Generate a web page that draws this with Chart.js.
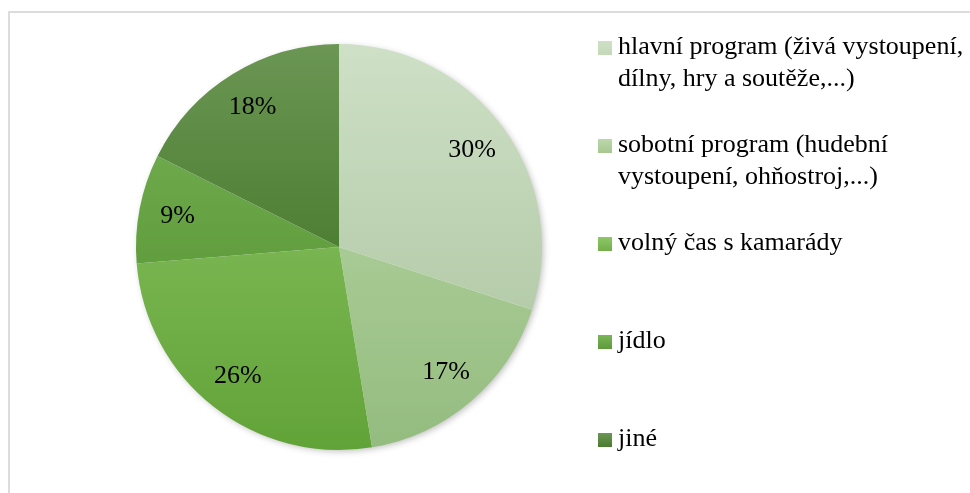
<!DOCTYPE html>
<html>
<head>
<meta charset="utf-8">
<script src="https://cdn.jsdelivr.net/npm/chart.js@4"></script>
<style>
  html, body { margin: 0; padding: 0; background: #fff; }
  #wrap { position: relative; width: 970px; height: 493px; overflow: hidden; }
  #frame { position: absolute; left: 8px; top: 11px; width: 1000px; height: 600px;
           border-left: 2px solid #dcdcdc; border-top: 2px solid #dcdcdc; }
  canvas { position: absolute; left: 0; top: 0; }
</style>
</head>
<body>
<div id="wrap">
  <div id="frame"></div>
  <canvas id="chart" width="970" height="493"></canvas>
</div>
<script>
const categories = [
  'hlavní program (živá vystoupení, dílny, hry a soutěže,...)',
  'sobotní program (hudební vystoupení, ohňostroj,...)',
  'volný čas s kamarády',
  'jídlo',
  'jiné'
];
// shares; labels show them rounded
const shares = [30.0, 17.4, 26.3, 8.7, 17.6];

// top / bottom shade of every slice (the pie has a soft vertical gradient)
const topColors = ['#cee0c6', '#bcd8aa', '#8fc769', '#7ab558', '#6b9654'];
const bottomColors = ['#a8c19b', '#94bc7f', '#62a338', '#4c8a28', '#2f6812'];
const legendColors = ['#c4d9b8', '#a5c791', '#72ae4a', '#5e9b3c', '#4b7b30'];

const FONT = '"Liberation Serif", "Times New Roman", serif';

function sliceFill(ctx) {
  const chart = ctx.chart;
  const area = chart.chartArea;
  const i = ctx.dataIndex;
  if (!area) return legendColors[i];
  const g = chart.ctx.createLinearGradient(0, area.top, 0, area.bottom);
  g.addColorStop(0, topColors[i]);
  g.addColorStop(1, bottomColors[i]);
  return g;
}

// soft shadow under the whole pie
const pieShadow = {
  id: 'pieShadow',
  beforeDatasetsDraw(chart) {
    const arc = chart.getDatasetMeta(0).data[0];
    if (!arc) return;
    const c = chart.ctx;
    c.save();
    c.shadowColor = 'rgba(0,0,0,0.28)';
    c.shadowBlur = 7;
    c.shadowOffsetX = 2;
    c.shadowOffsetY = 2;
    c.fillStyle = '#ffffff';
    c.beginPath();
    c.arc(arc.x, arc.y, arc.outerRadius - 1, 0, Math.PI * 2);
    c.fill();
    c.restore();
  }
};

// percentage labels inside the slices
const sliceLabels = {
  id: 'sliceLabels',
  afterDatasetsDraw(chart) {
    const c = chart.ctx;
    const meta = chart.getDatasetMeta(0);
    c.save();
    c.font = '26px ' + FONT;
    c.fillStyle = '#000';
    c.textAlign = 'center';
    c.textBaseline = 'middle';
    meta.data.forEach((arc, i) => {
      const p = arc.getProps(['x', 'y', 'startAngle', 'endAngle', 'outerRadius'], true);
      const mid = (p.startAngle + p.endAngle) / 2;
      const r = p.outerRadius * 0.81;
      c.fillText(Math.round(shares[i]) + '%', p.x + Math.cos(mid) * r, p.y + Math.sin(mid) * r);
    });
    c.restore();
  }
};

// legend on the right, wrapped like the original
const sideLegend = {
  id: 'sideLegend',
  afterDraw(chart) {
    const c = chart.ctx;
    const left = 598, textX = 618, maxW = 356;
    const firstY = 47, step = 98, lineH = 32;
    c.save();
    c.font = '26px ' + FONT;
    c.textBaseline = 'middle';
    categories.forEach((label, i) => {
      const y0 = firstY + i * step;
      const g = c.createLinearGradient(0, y0 - 6, 0, y0 + 8);
      g.addColorStop(0, topColors[i]);
      g.addColorStop(1, legendColors[i]);
      c.fillStyle = g;
      c.fillRect(left, y0 - 6, 14, 14);

      // simple word wrap
      const words = label.split(' ');
      const lines = [];
      let line = '';
      words.forEach(w => {
        const test = line ? line + ' ' + w : w;
        if (c.measureText(test).width > maxW && line) {
          lines.push(line);
          line = w;
        } else {
          line = test;
        }
      });
      lines.push(line);

      c.fillStyle = '#000';
      lines.forEach((l, k) => c.fillText(l, textX, y0 + k * lineH));
    });
    c.restore();
  }
};

new Chart(document.getElementById('chart').getContext('2d'), {
  type: 'pie',
  data: {
    labels: categories,
    datasets: [{
      data: shares,
      backgroundColor: sliceFill,
      borderWidth: 0
    }]
  },
  options: {
    responsive: false,
    animation: false,
    layout: { padding: { left: 136, right: 428, top: 44, bottom: 43 } },
    plugins: {
      legend: { display: false },
      tooltip: { enabled: false }
    }
  },
  plugins: [pieShadow, sliceLabels, sideLegend]
});
</script>
</body>
</html>
